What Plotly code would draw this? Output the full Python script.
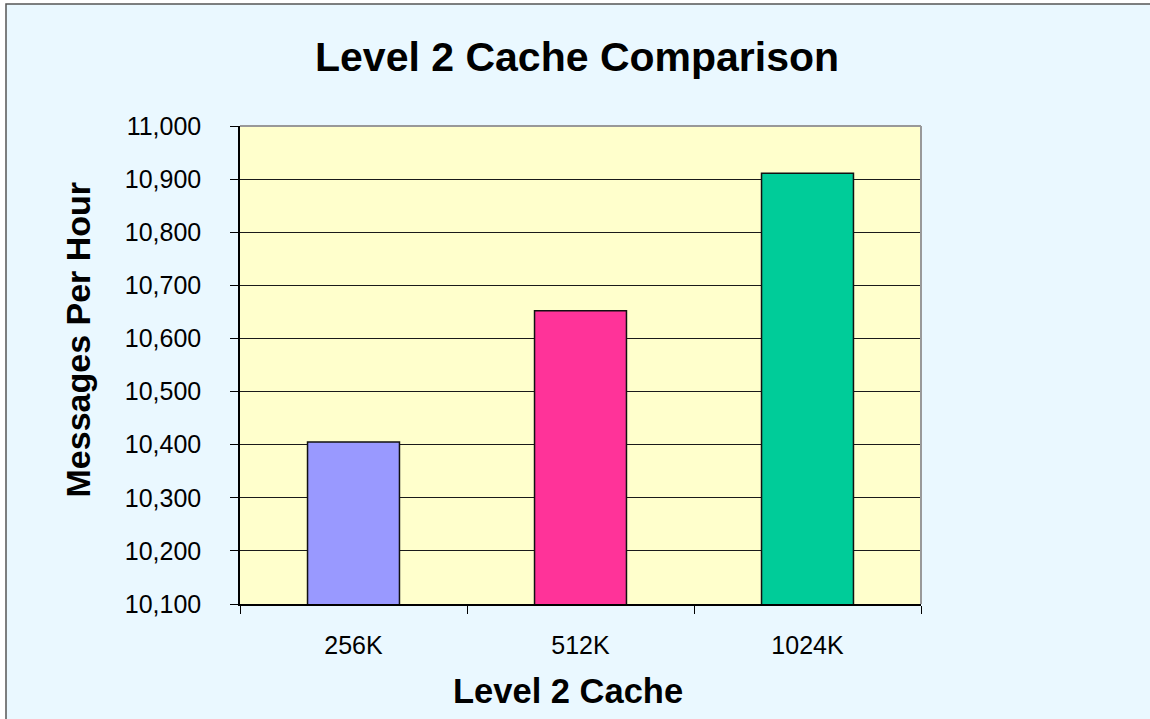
import plotly.graph_objects as go

categories = ["256K", "512K", "1024K"]
messages_per_hour = [10405, 10652, 10911]
bar_colors = ["#9999FF", "#FF3399", "#00CC99"]
y_ticks = [10100, 10200, 10300, 10400, 10500, 10600, 10700, 10800, 10900, 11000]

W, H = 1150, 719
L, R, T, B = 240, 229, 126, 115
pw, ph = W - L - R, H - T - B

def px(x):
    return (x - L) / pw

def py(y):
    return (H - B - y) / ph

font_family = "Liberation Sans, Arial, sans-serif"

fig = go.Figure(
    go.Bar(
        x=categories,
        y=messages_per_hour,
        marker=dict(color=bar_colors, line=dict(color="#111111", width=1.5)),
        width=0.405,
        hoverinfo="x+y",
    )
)

fig.update_layout(
    width=W,
    height=H,
    margin=dict(l=L, r=R, t=T, b=B, pad=0),
    paper_bgcolor="#EAF8FF",
    plot_bgcolor="#FFFFCC",
    showlegend=False,
    font=dict(family=font_family, size=25, color="#000000"),
    xaxis=dict(
        type="category",
        tickson="boundaries",
        ticks="outside",
        ticklen=8,
        tickcolor="#000000",
        showline=True,
        linecolor="#000000",
        linewidth=1.5,
        showgrid=False,
        tickfont=dict(size=25),
        ticklabelstandoff=18,
    ),
    yaxis=dict(
        range=[y_ticks[0], y_ticks[-1]],
        tickvals=y_ticks,
        tickformat=",",
        ticks="outside",
        ticklen=8,
        tickcolor="#000000",
        showline=True,
        linecolor="#000000",
        linewidth=1.5,
        showgrid=True,
        gridcolor="#1a1a1a",
        gridwidth=1,
        zeroline=False,
        tickfont=dict(size=25),
        ticklabelstandoff=24,
    ),
    annotations=[
        dict(text="<b>Level 2 Cache Comparison</b>", x=px(577), y=py(57),
             xref="paper", yref="paper", xanchor="center", yanchor="middle",
             showarrow=False, font=dict(size=41, family=font_family)),
        dict(text="<b>Level 2 Cache</b>", x=px(567.5), y=py(690.5),
             xref="paper", yref="paper", xanchor="center", yanchor="middle",
             showarrow=False, font=dict(size=34.5, family=font_family)),
        dict(text="<b>Messages Per Hour</b>", x=px(77), y=py(339.5), textangle=-90,
             xref="paper", yref="paper", xanchor="center", yanchor="middle",
             showarrow=False, font=dict(size=34, family=font_family)),
    ],
    shapes=[
        # white strip outside the chart frame (top and left)
        dict(type="rect", xref="paper", yref="paper",
             x0=px(-10), x1=px(1200), y0=py(4), y1=py(-10),
             line=dict(width=0), fillcolor="#FFFFFF", layer="below"),
        dict(type="rect", xref="paper", yref="paper",
             x0=px(-10), x1=px(6), y0=py(800), y1=py(-10),
             line=dict(width=0), fillcolor="#FFFFFF", layer="below"),
        dict(type="rect", xref="paper", yref="paper",
             x0=px(6), x1=px(1220), y0=py(800), y1=py(4),
             line=dict(color="#555555", width=1.5), fillcolor="rgba(0,0,0,0)", layer="above"),
        dict(type="line", xref="paper", yref="paper", x0=0, x1=1, y0=1, y1=1,
             line=dict(color="#999999", width=2), layer="above"),
        dict(type="line", xref="paper", yref="paper", x0=1, x1=1, y0=0, y1=1,
             line=dict(color="#999999", width=2), layer="above"),
    ],
)

fig.write_html(
    "out.html",
    config={"displayModeBar": False},
    post_script="document.body.style.margin='0';document.body.style.overflow='hidden';",
)
